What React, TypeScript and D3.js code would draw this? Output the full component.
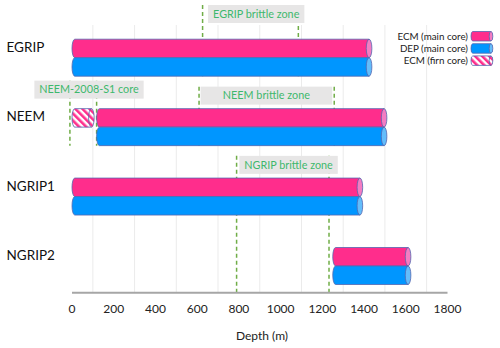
import React, { useRef, useEffect } from "react";
import * as d3 from "d3";

// cores on the category axis
const cores = ["EGRIP", "NEEM", "NGRIP1", "NGRIP2"];

// depth ranges (m) of each record, one entry per core
const ecmMain = [
  [0, 1424],
  [118, 1496],
  [0, 1380],
  [1250, 1611],
];
const depMain = [
  [0, 1424],
  [118, 1496],
  [0, 1380],
  [1250, 1611],
];
const firnCore = [{ core: "NEEM", range: [0, 93] }];

// brittle zones / extra cores marked with dashed lines
const zones = [
  { core: "EGRIP", label: "EGRIP brittle zone", range: [626, 1085], toAxis: false },
  { core: "NEEM", label: "NEEM-2008-S1 core", range: [-10, 118], toAxis: false },
  { core: "NEEM", label: "NEEM brittle zone", range: [609, 1257], toAxis: false },
  { core: "NGRIP1", label: "NGRIP brittle zone", range: [789, 1232], toAxis: true },
];
// box top relative to the band centre, px
const zoneBoxOffset = [-52.7, -46.5, -40.5, -40.7];

const xTicks = [0, 200, 400, 600, 800, 1000, 1200, 1400, 1600, 1800];
const gridValues = [100, 300, 500, 700, 900, 1100, 1300, 1500, 1700];

const legendItems = [
  { text: "ECM (main core)", kind: "ecm" },
  { text: "DEP (main core)", kind: "dep" },
  { text: "ECM (firn core)", kind: "firn" },
];

const PINK = "#ff2d8c";
const PINK_CAP = "#f47cc2";
const BLUE = "#0096ff";
const BLUE_CAP = "#63bdfb";
const OUTLINE = "#5467b0";
const GREEN = "#3db86c";
const FONT = "Lato, 'Open Sans', sans-serif";

function App() {
  const ref = useRef<SVGSVGElement>(null);

  useEffect(() => {
    const svg = d3.select(ref.current);
    svg.selectAll("*").remove();

    const x = d3.scaleLinear().domain([0, 1800]).range([72, 447.5]);
    const y = d3.scalePoint<string>().domain(cores).range([57.7, 266]);
    const axisY = 292.7;
    const h = 18.5;
    const rx = 2.8;

    const defs = svg.append("defs");
    const pat = defs
      .append("pattern")
      .attr("id", "firnHatch")
      .attr("patternUnits", "userSpaceOnUse")
      .attr("width", 5)
      .attr("height", 5)
      .attr("patternTransform", "rotate(-45)");
    pat.append("rect").attr("width", 5).attr("height", 5).attr("fill", "#fff");
    pat.append("rect").attr("width", 2.6).attr("height", 5).attr("fill", PINK);

    // gridlines
    svg
      .append("g")
      .selectAll("line")
      .data(gridValues)
      .enter()
      .append("line")
      .attr("x1", (d) => x(d))
      .attr("x2", (d) => x(d))
      .attr("y1", 25)
      .attr("y2", axisY)
      .attr("stroke", "#ebebeb")
      .attr("stroke-width", 1);

    const cylinder = (
      g: any,
      x0: number,
      x1: number,
      top: number,
      hh: number,
      fill: string,
      cap: string,
      r: number
    ) => {
      const ry = hh / 2;
      const bx = x0 + r;
      g.append("path")
        .attr(
          "d",
          `M${bx},${top} L${x1},${top} L${x1},${top + hh} L${bx},${top + hh} A${r},${ry} 0 0 1 ${bx},${top} Z`
        )
        .attr("fill", fill)
        .attr("stroke", OUTLINE)
        .attr("stroke-width", 0.8);
      g.append("ellipse")
        .attr("cx", x1)
        .attr("cy", top + ry)
        .attr("rx", r)
        .attr("ry", ry)
        .attr("fill", cap)
        .attr("stroke", OUTLINE)
        .attr("stroke-width", 0.8);
    };

    // dashed zone lines
    const zoneG = svg.append("g");
    zones.forEach((z, i) => {
      const c = y(z.core)!;
      const top = c + zoneBoxOffset[i];
      const bottom = z.toAxis ? axisY : c + h;
      z.range.forEach((v) => {
        zoneG
          .append("line")
          .attr("x1", x(v))
          .attr("x2", x(v))
          .attr("y1", top)
          .attr("y2", bottom)
          .attr("stroke", "#70ad47")
          .attr("stroke-width", 1.5)
          .attr("stroke-dasharray", "4,3");
      });
    });

    // bars
    const barG = svg.append("g");
    cores.forEach((core, i) => {
      const c = y(core)!;
      cylinder(barG, x(ecmMain[i][0]), x(ecmMain[i][1]), c - h, h, PINK, PINK_CAP, rx);
      cylinder(barG, x(depMain[i][0]), x(depMain[i][1]), c, h, BLUE, BLUE_CAP, rx);
    });
    firnCore.forEach((f) => {
      const c = y(f.core)!;
      cylinder(barG, x(f.range[0]), x(f.range[1]), c - h, h, "url(#firnHatch)", "url(#firnHatch)", rx);
    });

    // zone label boxes
    zones.forEach((z, i) => {
      const c = y(z.core)!;
      const top = c + zoneBoxOffset[i];
      const g = zoneG.append("g");
      const rect = g.append("rect").attr("fill", "#e7e6e6");
      const txt = g
        .append("text")
        .attr("font-family", FONT)
        .attr("font-size", 10.8)
        .attr("fill", GREEN)
        .attr("text-anchor", "middle")
        .attr("y", top + 9)
        .attr("dy", "0.35em")
        .text(z.label);
      const tw = (txt.node() as SVGTextElement).getComputedTextLength();
      let bx0 = x(z.range[0]) + 1.5;
      let bx1 = x(z.range[1]) - 2;
      if (bx1 - bx0 < tw + 10) {
        const mid = (bx0 + bx1) / 2 + 6;
        bx0 = mid - tw / 2 - 5;
        bx1 = mid + tw / 2 + 5;
      }
      rect
        .attr("x", bx0)
        .attr("y", top)
        .attr("width", bx1 - bx0)
        .attr("height", 18);
      txt.attr("x", (bx0 + bx1) / 2);
    });

    // x axis
    svg
      .append("line")
      .attr("x1", x(0))
      .attr("x2", x(1800))
      .attr("y1", axisY)
      .attr("y2", axisY)
      .attr("stroke", "#a6a6a6")
      .attr("stroke-width", 2);
    svg
      .append("g")
      .selectAll("text")
      .data(xTicks)
      .enter()
      .append("text")
      .attr("x", (d) => x(d))
      .attr("y", 309)
      .attr("dy", "0.35em")
      .attr("text-anchor", "middle")
      .attr("font-family", FONT)
      .attr("font-size", 12)
      .attr("fill", "#222")
      .text((d) => d);
    svg
      .append("text")
      .attr("x", 262)
      .attr("y", 336)
      .attr("dy", "0.35em")
      .attr("text-anchor", "middle")
      .attr("font-family", FONT)
      .attr("font-size", 12)
      .attr("fill", "#222")
      .text("Depth (m)");

    // category labels
    svg
      .append("g")
      .selectAll("text")
      .data(cores)
      .enter()
      .append("text")
      .attr("x", 6.5)
      .attr("y", (d) => y(d)! - 10.5)
      .attr("dy", "0.35em")
      .attr("font-family", FONT)
      .attr("font-size", 13.5)
      .attr("fill", "#111")
      .text((d) => d);

    // legend
    const legend = svg.append("g");
    legendItems.forEach((it, i) => {
      const top = 31.5 + i * 12.2;
      const lh = 9.5;
      legend
        .append("text")
        .attr("x", 468)
        .attr("y", top + lh / 2)
        .attr("dy", "0.35em")
        .attr("text-anchor", "end")
        .attr("font-family", FONT)
        .attr("font-size", 9.8)
        .attr("fill", "#222")
        .text(it.text);
      const fill = it.kind === "ecm" ? PINK : it.kind === "dep" ? BLUE : "url(#firnHatch)";
      const cap = it.kind === "ecm" ? PINK_CAP : it.kind === "dep" ? BLUE_CAP : "url(#firnHatch)";
      cylinder(legend, 471, 491, top, lh, fill, cap, 1.8);
    });
  }, []);

  return (
    <svg
      ref={ref}
      width={500}
      height={348}
      style={{ position: "absolute", left: 0, top: 0, background: "#fff" }}
    />
  );
}

export default App;
